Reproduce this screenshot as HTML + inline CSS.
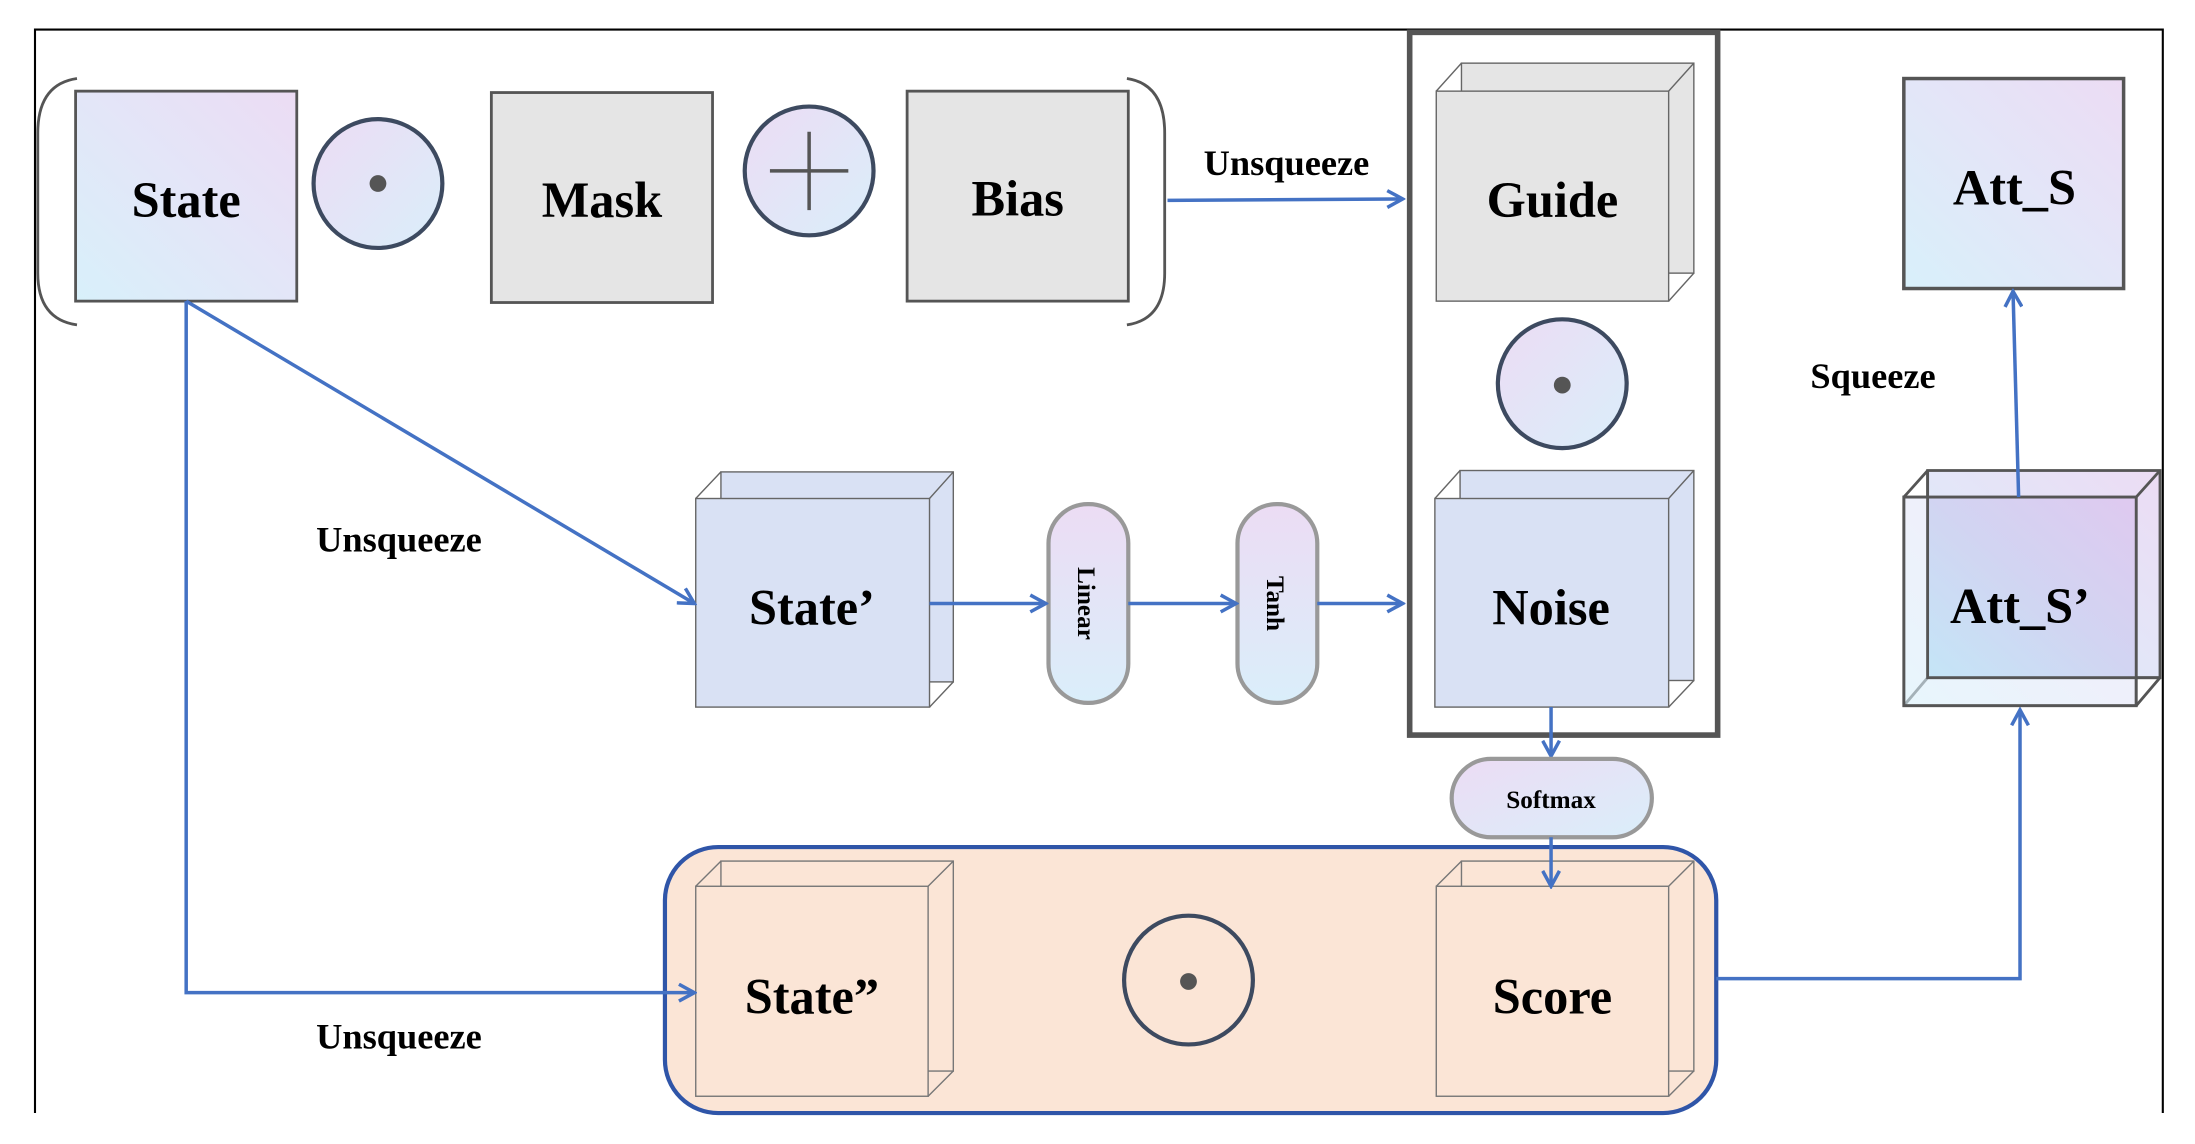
<!DOCTYPE html>
<html><head><meta charset="utf-8"><style>html,body{margin:0;padding:0;background:#fff}svg{display:block}</style></head>
<body>
<svg width="2195" height="1144" viewBox="0 0 1568 817" xmlns="http://www.w3.org/2000/svg" font-family="'Liberation Serif',serif" font-weight="bold">
<defs>
<linearGradient id="g1" x1="0" y1="1" x2="1" y2="0"><stop offset="0" stop-color="#d8f0fa"/><stop offset="0.5" stop-color="#e3e6f8"/><stop offset="1" stop-color="#ecdcf4"/></linearGradient>
<linearGradient id="g2" x1="0" y1="1" x2="1" y2="0"><stop offset="0" stop-color="#bfe3f6"/><stop offset="0.5" stop-color="#cdd0f0"/><stop offset="1" stop-color="#dcc4ef"/></linearGradient>
<linearGradient id="gp" x1="0" y1="0" x2="0" y2="1"><stop offset="0" stop-color="#ecdcf4"/><stop offset="1" stop-color="#daeefa"/></linearGradient>
<linearGradient id="gs" x1="0" y1="0" x2="1" y2="1"><stop offset="0" stop-color="#ecdcf4"/><stop offset="1" stop-color="#daeefa"/></linearGradient>
<marker id="a" markerWidth="14" markerHeight="14" refX="12" refY="7" orient="auto" markerUnits="userSpaceOnUse"><path d="M1,1 L12,7 L1,13" fill="none" stroke="#4472c4" stroke-width="2.5"/></marker>
</defs>
<path d="M25,795 V21 H1545 V795" fill="none" stroke="#000" stroke-width="1.5"/>
<path d="M55,56 Q27,60 27,95 V195 Q27,228 55,232" fill="none" stroke="#555" stroke-width="2"/>
<path d="M805,56 Q832,60 832,95 V195 Q832,228 805,232" fill="none" stroke="#555" stroke-width="2"/>
<rect x="54" y="65" width="158" height="150" fill="url(#g1)" stroke="#555" stroke-width="2"/>
<text x="133" y="155" font-size="36" text-anchor="middle">State</text>
<circle cx="270" cy="131" r="46" fill="url(#gs)" stroke="#3d4a60" stroke-width="3"/>
<circle cx="270" cy="131" r="6" fill="#555"/>
<rect x="351" y="66" width="158" height="150" fill="#e5e5e5" stroke="#555" stroke-width="2"/>
<text x="430" y="155" font-size="36" text-anchor="middle">Mask</text>
<circle cx="578" cy="122" r="46" fill="url(#gs)" stroke="#3d4a60" stroke-width="3"/>
<path d="M550,122 H606 M578,94 V150" stroke="#555" stroke-width="2.5"/>
<rect x="648" y="65" width="158" height="150" fill="#e5e5e5" stroke="#555" stroke-width="2"/>
<text x="727" y="154" font-size="36" text-anchor="middle">Bias</text>
<text x="919" y="125" font-size="26" text-anchor="middle">Unsqueeze</text>
<path d="M834,143 L1002,142" stroke="#4472c4" stroke-width="2.5" marker-end="url(#a)"/>
<rect x="1007" y="23" width="220" height="502" fill="none" stroke="#555" stroke-width="4"/>
<g stroke="#666" stroke-width="1">
<rect x="1044" y="45" width="166" height="150" fill="#e5e5e5"/>
<path d="M1026,65 L1044,45 M1192,65 L1210,45 M1192,215 L1210,195" fill="none"/>
<rect x="1026" y="65" width="166" height="150" fill="#e5e5e5"/>
</g>
<text x="1109" y="155" font-size="36" text-anchor="middle">Guide</text>
<circle cx="1116" cy="274" r="46" fill="url(#gs)" stroke="#3d4a60" stroke-width="3"/>
<circle cx="1116" cy="275" r="6" fill="#555"/>
<g stroke="#666" stroke-width="1">
<rect x="1043" y="336" width="167" height="150" fill="#d9e1f4"/>
<path d="M1025,356 L1043,336 M1192,356 L1210,336 M1192,505 L1210,486" fill="none"/>
<rect x="1025" y="356" width="167" height="149" fill="#d9e1f4"/>
</g>
<text x="1108" y="446" font-size="36" text-anchor="middle">Noise</text>
<g stroke="#666" stroke-width="1">
<rect x="515" y="337" width="166" height="150" fill="#d9e1f4"/>
<path d="M497,356 L515,337 M664,356 L681,337 M664,505 L681,487" fill="none"/>
<rect x="497" y="356" width="167" height="149" fill="#d9e1f4"/>
</g>
<text x="580" y="446" font-size="36" text-anchor="middle">State’</text>
<rect x="749" y="360" width="57" height="142" rx="28" fill="url(#gp)" stroke="#999" stroke-width="3"/>
<text transform="translate(770,431) rotate(90)" font-size="18" text-anchor="middle">Linear</text>
<rect x="884" y="360" width="57" height="142" rx="28" fill="url(#gp)" stroke="#999" stroke-width="3"/>
<text transform="translate(905,431) rotate(90)" font-size="18" text-anchor="middle">Tanh</text>
<g stroke="#4472c4" stroke-width="2.5" fill="none">
<path d="M664,431 H747" marker-end="url(#a)"/>
<path d="M806,431 H883" marker-end="url(#a)"/>
<path d="M941,431 H1002" marker-end="url(#a)"/>
<path d="M133,215 L496,431" marker-end="url(#a)"/>
<path d="M1108,505 V540" marker-end="url(#a)"/>
</g>
<text x="285" y="394" font-size="26" text-anchor="middle">Unsqueeze</text>
<text x="285" y="749" font-size="26" text-anchor="middle">Unsqueeze</text>
<rect x="1037" y="542" width="143" height="56" rx="28" fill="url(#gs)" stroke="#999" stroke-width="3"/>
<text x="1108" y="577" font-size="18" text-anchor="middle">Softmax</text>
<rect x="475" y="605" width="751" height="190" rx="38" fill="#fbe5d6" stroke="#2f55a8" stroke-width="3"/>
<g stroke="#777" stroke-width="1">
<rect x="515" y="615" width="166" height="150" fill="#fbe5d6"/>
<path d="M497,633 L515,615 M663,633 L681,615 M663,783 L681,765" fill="none"/>
<rect x="497" y="633" width="166" height="150" fill="#fbe5d6"/>
<rect x="1044" y="615" width="166" height="150" fill="#fbe5d6"/>
<path d="M1026,633 L1044,615 M1192,633 L1210,615 M1192,783 L1210,765" fill="none"/>
<rect x="1026" y="633" width="166" height="150" fill="#fbe5d6"/>
</g>
<text x="580" y="724" font-size="36" text-anchor="middle">State”</text>
<text x="1109" y="724" font-size="36" text-anchor="middle">Score</text>
<circle cx="849" cy="700" r="46" fill="#fbe5d6" stroke="#3d4a60" stroke-width="3"/>
<circle cx="849" cy="701" r="6" fill="#555"/>
<g stroke="#4472c4" stroke-width="2.5" fill="none">
<path d="M133,215 V709 H496" marker-end="url(#a)"/>
<path d="M1108,598 V633" marker-end="url(#a)"/>
<path d="M1226,699 H1443 V507" marker-end="url(#a)"/>
</g>
<rect x="1377" y="336" width="166" height="148" fill="url(#g1)" stroke="#555" stroke-width="2"/>
<path d="M1360,355 L1377,336 M1526,355 L1543,336 M1526,504 L1543,484 M1360,504 L1377,484" stroke="#555" stroke-width="2"/>
<rect x="1360" y="355" width="166" height="149" fill="url(#g1)" fill-opacity="0.6" stroke="#555" stroke-width="2"/>
<rect x="1377" y="355" width="149" height="129" fill="url(#g2)" opacity="0.8"/>
<path d="M1377,336 V484 H1543" fill="none" stroke="#555" stroke-width="2"/>
<rect x="1360" y="355" width="166" height="149" fill="none" stroke="#555" stroke-width="2"/>
<text x="1443" y="445" font-size="36" text-anchor="middle">Att_S’</text>
<rect x="1360" y="56" width="157" height="150" fill="url(#g1)" stroke="#555" stroke-width="2.5"/>
<text x="1439" y="146" font-size="36" text-anchor="middle">Att_S</text>
<path d="M1442,355 L1438,208" stroke="#4472c4" stroke-width="2.5" marker-end="url(#a)"/>
<text x="1338" y="277" font-size="26" text-anchor="middle">Squeeze</text>
</svg>
</body></html>
